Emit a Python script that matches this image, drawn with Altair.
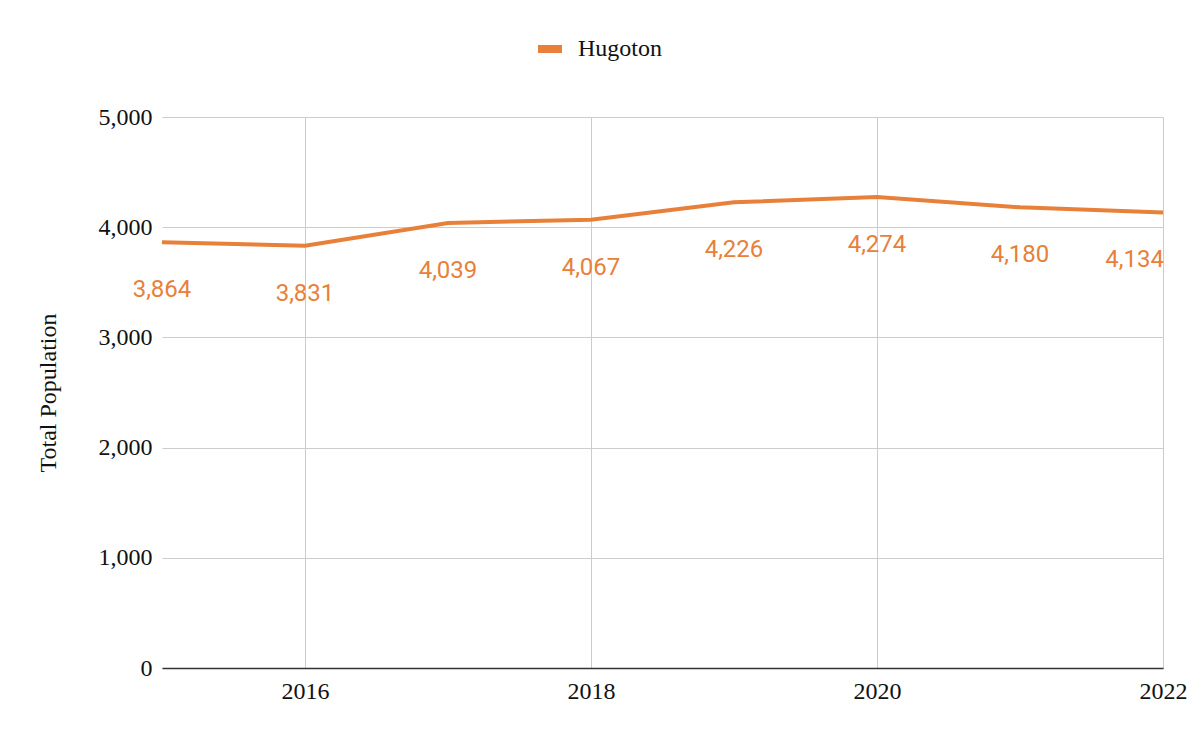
import altair as alt
import pandas as pd

years = [2015, 2016, 2017, 2018, 2019, 2020, 2021, 2022]
population = [3864, 3831, 4039, 4067, 4226, 4274, 4180, 4134]
series = ["Hugoton"] * len(years)
x_ticks = [2016, 2018, 2020, 2022]
y_ticks = [0, 1000, 2000, 3000, 4000, 5000]

df = pd.DataFrame({"Year": years, "Population": population, "City": series})

ORANGE = "#e8803a"
SERIF = "Liberation Serif"

x = alt.X("Year:Q", scale=alt.Scale(domain=[2015, 2022], nice=False, zero=False),
          axis=alt.Axis(values=x_ticks, format="d", title=None, tickSize=0,
                        labelPadding=11, labelFontSize=24, labelFont=SERIF,
                        labelColor="#111", domainColor="#333", domainWidth=1.5,
                        gridColor="#cccccc", labelFlush=False))
y = alt.Y("Population:Q", scale=alt.Scale(domain=[0, 5000], nice=False),
          axis=alt.Axis(values=y_ticks, format=",d", title="Total Population",
                        titleFont=SERIF, titleFontSize=24, titleFontWeight="normal",
                        titleColor="#111", titlePadding=38, tickSize=0,
                        labelPadding=10, labelFontSize=24, labelFont=SERIF,
                        labelColor="#111", domain=False, gridColor="#cccccc"))

line = alt.Chart(df).mark_line(strokeWidth=4, color=ORANGE).encode(
    x=x, y=y,
    color=alt.Color("City:N", scale=alt.Scale(range=[ORANGE]),
                    legend=alt.Legend(title=None, orient="none", legendX=372, legendY=-84,
                                      symbolType="stroke", symbolStrokeWidth=8,
                                      symbolSize=576, labelFont=SERIF, labelFontSize=24,
                                      labelColor="#111", labelOffset=12)),
)

labels_mid = alt.Chart(df).transform_filter("datum.Year < 2022").mark_text(
    dy=48, fontSize=24, font="Roboto", color=ORANGE, align="center", baseline="middle"
).encode(x="Year:Q", y="Population:Q", text=alt.Text("Population:Q", format=",d"))

labels_end = alt.Chart(df).transform_filter("datum.Year == 2022").mark_text(
    dy=48, dx=1, fontSize=24, font="Roboto", color=ORANGE, align="right", baseline="middle"
).encode(x="Year:Q", y="Population:Q", text=alt.Text("Population:Q", format=",d"))

chart = alt.layer(line, labels_mid, labels_end).properties(
    width=1001, height=551,
    autosize=alt.AutoSizeParams(type="none"),
    padding={"left": 154, "top": 109, "right": 29, "bottom": 60},
).configure_view(stroke=None).configure_axis(gridWidth=1)

chart.save("out.html", embed_options={"renderer": "svg", "actions": False})
